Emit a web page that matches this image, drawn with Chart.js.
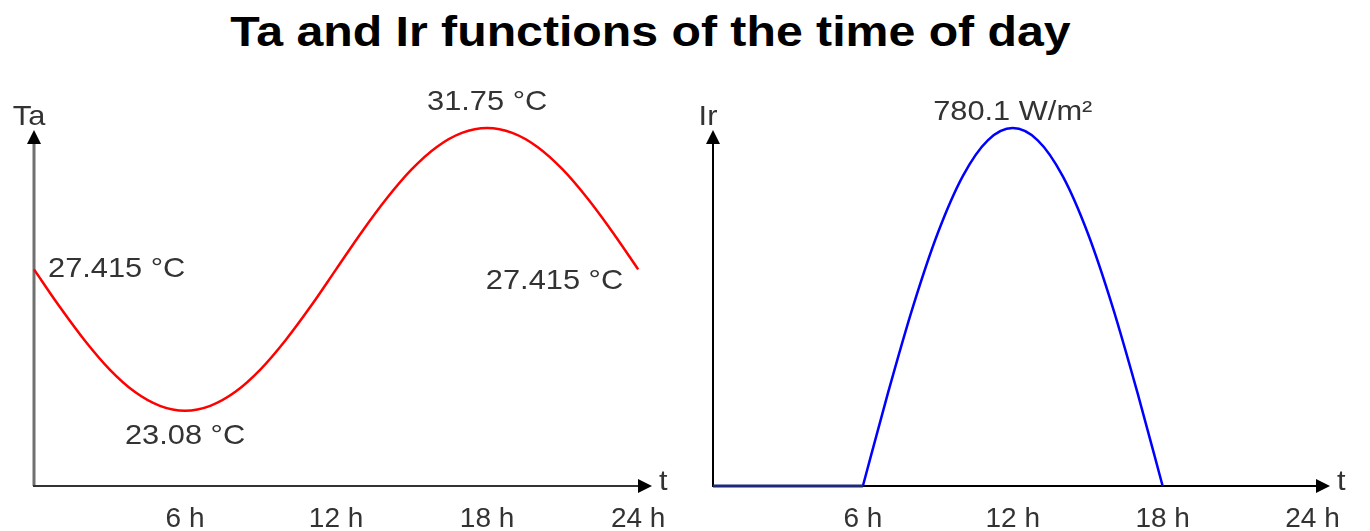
<!DOCTYPE html>
<html>
<head>
<meta charset="utf-8">
<script src="https://cdn.jsdelivr.net/npm/chart.js@4.4.1/dist/chart.umd.min.js"></script>
<style>
  body { margin: 0; background: #fff; width: 1370px; height: 531px; overflow: hidden; position: relative; }
  #title { position: absolute; left: 0; width: 1301px; top: 8px; text-align: center; line-height: 42px;
           font: bold 42px "Liberation Sans", Arial, sans-serif; color: #000;
           transform: scaleX(1.148); transform-origin: 650.5px 0; white-space: nowrap; }
  #left { position: absolute; left: 0; top: 0; }
  #right { position: absolute; left: 690px; top: 0; }
</style>
</head>
<body>
<div id="title">Ta and Ir functions of the time of day</div>
<canvas id="left" width="690" height="553"></canvas>
<canvas id="right" width="680" height="553"></canvas>
<script>
// time of day, hours
const hours = [0,1,2,3,4,5,6,7,8,9,10,11,12,13,14,15,16,17,18,19,20,21,22,23,24];
const tickHours = [6, 12, 18, 24];

// air temperature Ta (°C)
const taValues = [27.415, 26.29, 25.25, 24.35, 23.66, 23.23, 23.08, 23.23, 23.66, 24.35, 25.25, 26.29,
                  27.415, 28.54, 29.58, 30.48, 31.17, 31.60, 31.75, 31.60, 31.17, 30.48, 29.58, 28.54, 27.415];

// irradiance Ir (W/m2): night parts and the daytime arch
const irNightHours = [0, 6, 18, 24];
const irNightValues = [0, 0, null, 0];
const irDayHours = [6,7,8,9,10,11,12,13,14,15,16,17,18];
const irDayValues = [0, 201.9, 390.1, 551.6, 675.6, 753.5, 780.1, 753.5, 675.6, 551.6, 390.1, 201.9, 0];

// value labels: [hour, value, text]
const taLabels = [[0, 27.415, '27.415 °C'], [6, 23.08, '23.08 °C'], [18, 31.75, '31.75 °C'], [24, 27.415, '27.415 °C']];
const irLabels = [[12, 780.1, '780.1 W/m²']];

const FONT = '"Liberation Sans", Arial, sans-serif';
const TXT = '#333';
const STRETCH = 1.1;

function pts(xs, ys) { return xs.map((x, i) => ({ x: x, y: ys[i] })); }

function text(ctx, s, x, y, align) {
  ctx.save();
  ctx.translate(x, y);
  ctx.scale(STRETCH, 1);
  ctx.textAlign = align;
  ctx.fillText(s, 0, 0);
  ctx.restore();
}

function arrow(ctx, x, y, dir) {
  ctx.beginPath();
  if (dir === 'up') { ctx.moveTo(x, y); ctx.lineTo(x - 7, y + 14); ctx.lineTo(x + 7, y + 14); }
  else { ctx.moveTo(x, y); ctx.lineTo(x - 14, y - 7); ctx.lineTo(x - 14, y + 7); }
  ctx.closePath();
  ctx.fill();
}

// axes with arrow heads, drawn under the curves
function axesPlugin(yName, yColor, yWidth, xColor) {
  return {
    id: 'arrowAxes',
    beforeDatasetsDraw(chart) {
      const a = chart.chartArea, ctx = chart.ctx;
      ctx.save();
      ctx.lineWidth = yWidth; ctx.strokeStyle = yColor;
      ctx.beginPath(); ctx.moveTo(a.left, a.bottom); ctx.lineTo(a.left, a.top + 10); ctx.stroke();
      ctx.lineWidth = 2; ctx.strokeStyle = xColor;
      ctx.beginPath(); ctx.moveTo(a.left - 1, a.bottom); ctx.lineTo(a.right - 10, a.bottom); ctx.stroke();
      ctx.fillStyle = '#000';
      arrow(ctx, a.left, a.top, 'up');
      arrow(ctx, a.right, a.bottom, 'right');
      ctx.fillStyle = TXT;
      ctx.font = '28px ' + FONT;
      ctx.textBaseline = 'middle';
      text(ctx, yName, a.left - 5, a.top - 13, 'center');
      text(ctx, 't', a.right + 7, a.bottom - 4, 'left');
      ctx.restore();
    }
  };
}

function labelsPlugin(list, place) {
  return {
    id: 'valueLabels',
    afterDatasetsDraw(chart) {
      const ctx = chart.ctx, xs = chart.scales.x, ys = chart.scales.y;
      ctx.save();
      ctx.fillStyle = TXT;
      ctx.font = '28px ' + FONT;
      ctx.textBaseline = 'middle';
      list.forEach((l, i) => {
        const p = place[i];
        text(ctx, l[2], xs.getPixelForValue(l[0]) + p[1], ys.getPixelForValue(l[1]) + p[2], p[0]);
      });
      ctx.restore();
    }
  };
}

function xScale(max) {
  return {
    type: 'linear', min: 0, max: max,
    grid: { display: false, drawTicks: false }, border: { display: false },
    afterBuildTicks: s => { s.ticks = tickHours.map(v => ({ value: v })); },
    ticks: { autoSkip: false, maxRotation: 0, padding: 19, color: TXT,
             font: { family: FONT, size: 28, lineHeight: 1 },
             callback: v => v + ' h' }
  };
}

Chart.defaults.animation = false;
Chart.defaults.responsive = false;

new Chart(document.getElementById('left'), {
  type: 'line',
  data: { datasets: [{ data: pts(hours, taValues), borderColor: '#ff0000', borderWidth: 2.5,
                        pointRadius: 0, cubicInterpolationMode: 'monotone', clip: false }] },
  options: {
    layout: { padding: { left: 34, right: 38, top: 130, bottom: 1 } },
    plugins: { legend: { display: false }, tooltip: { enabled: false } },
    scales: { x: xScale(24.55), y: { display: false, min: 20.77, max: 31.69 } }
  },
  plugins: [axesPlugin('Ta', '#707070', 3, '#333'),
            labelsPlugin(taLabels, [['left', 14, 0], ['center', 0, 26], ['center', 0, -26], ['right', -15, 12]])]
});

new Chart(document.getElementById('right'), {
  type: 'line',
  data: { datasets: [
    { data: pts(irNightHours, irNightValues), borderColor: '#1c2a78', borderWidth: 3,
      pointRadius: 0, spanGaps: false, clip: false },
    { data: pts(irDayHours, irDayValues), borderColor: '#0000ff', borderWidth: 2.5,
      pointRadius: 0, cubicInterpolationMode: 'monotone', clip: false }
  ] },
  options: {
    layout: { padding: { left: 23, right: 40, top: 130, bottom: 1 } },
    plugins: { legend: { display: false }, tooltip: { enabled: false } },
    scales: { x: xScale(24.7), y: { display: false, min: 0, max: 776 } }
  },
  plugins: [axesPlugin('Ir', '#000', 2, '#000'),
            labelsPlugin(irLabels, [['center', 0, -16]])]
});
</script>
</body>
</html>
